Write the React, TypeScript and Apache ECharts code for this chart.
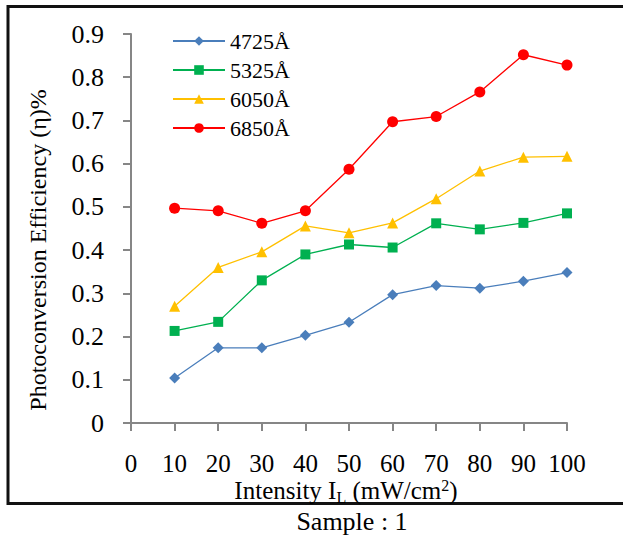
import React, { useEffect, useRef } from "react";
import * as echarts from "echarts";

const intensity = [10, 20, 30, 40, 50, 60, 70, 80, 90, 100];
const s4725 = [0.104, 0.174, 0.174, 0.203, 0.233, 0.297, 0.318, 0.312, 0.328, 0.348];
const s5325 = [0.213, 0.234, 0.33, 0.39, 0.413, 0.406, 0.462, 0.448, 0.463, 0.485];
const s6050 = [0.27, 0.36, 0.396, 0.456, 0.44, 0.463, 0.519, 0.583, 0.615, 0.617];
const s6850 = [0.497, 0.491, 0.462, 0.491, 0.587, 0.697, 0.709, 0.766, 0.852, 0.828];
const seriesNames = ["4725Å", "5325Å", "6050Å", "6850Å"];

const FONT = "Liberation Serif, Times New Roman, serif";

export default function App() {
  const ref = useRef<HTMLDivElement>(null);
  useEffect(() => {
    if (!ref.current) return;
    const chart = echarts.init(ref.current, null, { renderer: "svg" });
    const mk = (name: string, data: number[], color: string, symbol: string, size: number) => ({
      name,
      type: "line",
      data: intensity.map((x, i) => [x, data[i]]),
      symbol,
      symbolSize: size,
      lineStyle: { color, width: 1.3 },
      itemStyle: { color },
    });
    chart.setOption({
      animation: false,
      backgroundColor: "#ffffff",
      textStyle: { fontFamily: FONT },
      grid: { left: 131, right: 56, top: 34, bottom: 114, containLabel: false },
      xAxis: {
        type: "value",
        min: 0,
        max: 100,
        interval: 10,
        axisLine: { show: true, lineStyle: { color: "#868686", width: 2 } },
        axisTick: { show: true, inside: false, length: 8, lineStyle: { color: "#868686", width: 2 } },
        splitLine: { show: false },
        axisLabel: { fontFamily: FONT, fontSize: 25, color: "#000", margin: 28 },
      },
      yAxis: {
        type: "value",
        min: 0,
        max: 0.9,
        interval: 0.1,
        axisLine: { show: true, lineStyle: { color: "#868686", width: 2 } },
        axisTick: { show: true, inside: false, length: 8, lineStyle: { color: "#868686", width: 2 } },
        splitLine: { show: false },
        axisLabel: {
          fontFamily: FONT,
          fontSize: 26,
          color: "#000",
          margin: 27,
          formatter: (v: number) => (Math.round(v * 10) === 0 ? "0" : v.toFixed(1)),
        },
      },
      legend: {
        orient: "vertical",
        left: 167,
        top: 25,
        itemWidth: 52,
        itemHeight: 12,
        itemGap: 7,
        textStyle: { fontFamily: FONT, fontSize: 22, color: "#000" },
        data: seriesNames,
      },
      series: [
        mk(seriesNames[0], s4725, "#4a7ebb", "diamond", 11),
        mk(seriesNames[1], s5325, "#00b050", "rect", 10),
        mk(seriesNames[2], s6050, "#ffc000", "triangle", 11),
        mk(seriesNames[3], s6850, "#ff0000", "circle", 11),
      ],
      graphic: [
        {
          type: "polyline",
          shape: { points: [[700, 6.5], [8, 6.5], [8, 503.5], [700, 503.5]] },
          style: { stroke: "#111", lineWidth: 3, fill: null },
          silent: true,
        },
        {
          type: "text",
          x: 38,
          y: 250,
          rotation: Math.PI / 2,
          style: {
            text: "Photoconversion Efficiency (η)%",
            fontFamily: FONT,
            fontSize: 24,
            fill: "#000",
            align: "center",
            verticalAlign: "middle",
          },
        },
        {
          type: "text",
          x: 346,
          y: 490,
          style: {
            text: "Intensity I{sub|L} (mW/cm{sup|2})",
            fontFamily: FONT,
            fontSize: 25,
            fill: "#000",
            align: "center",
            verticalAlign: "middle",
            rich: {
              sub: { fontFamily: FONT, fontSize: 16, fill: "#000", padding: [15, 0, 0, 0] },
              sup: { fontFamily: FONT, fontSize: 16, fill: "#000", padding: [0, 0, 10, 0] },
            },
          },
        },
        {
          type: "text",
          x: 352,
          y: 521,
          style: {
            text: "Sample : 1",
            fontFamily: FONT,
            fontSize: 26,
            fill: "#000",
            align: "center",
            verticalAlign: "middle",
          },
        },
      ],
    });
    return () => chart.dispose();
  }, []);
  return (
    <div
      ref={ref}
      style={{ position: "fixed", left: 0, top: 0, width: 623, height: 537, background: "#fff" }}
    />
  );
}
